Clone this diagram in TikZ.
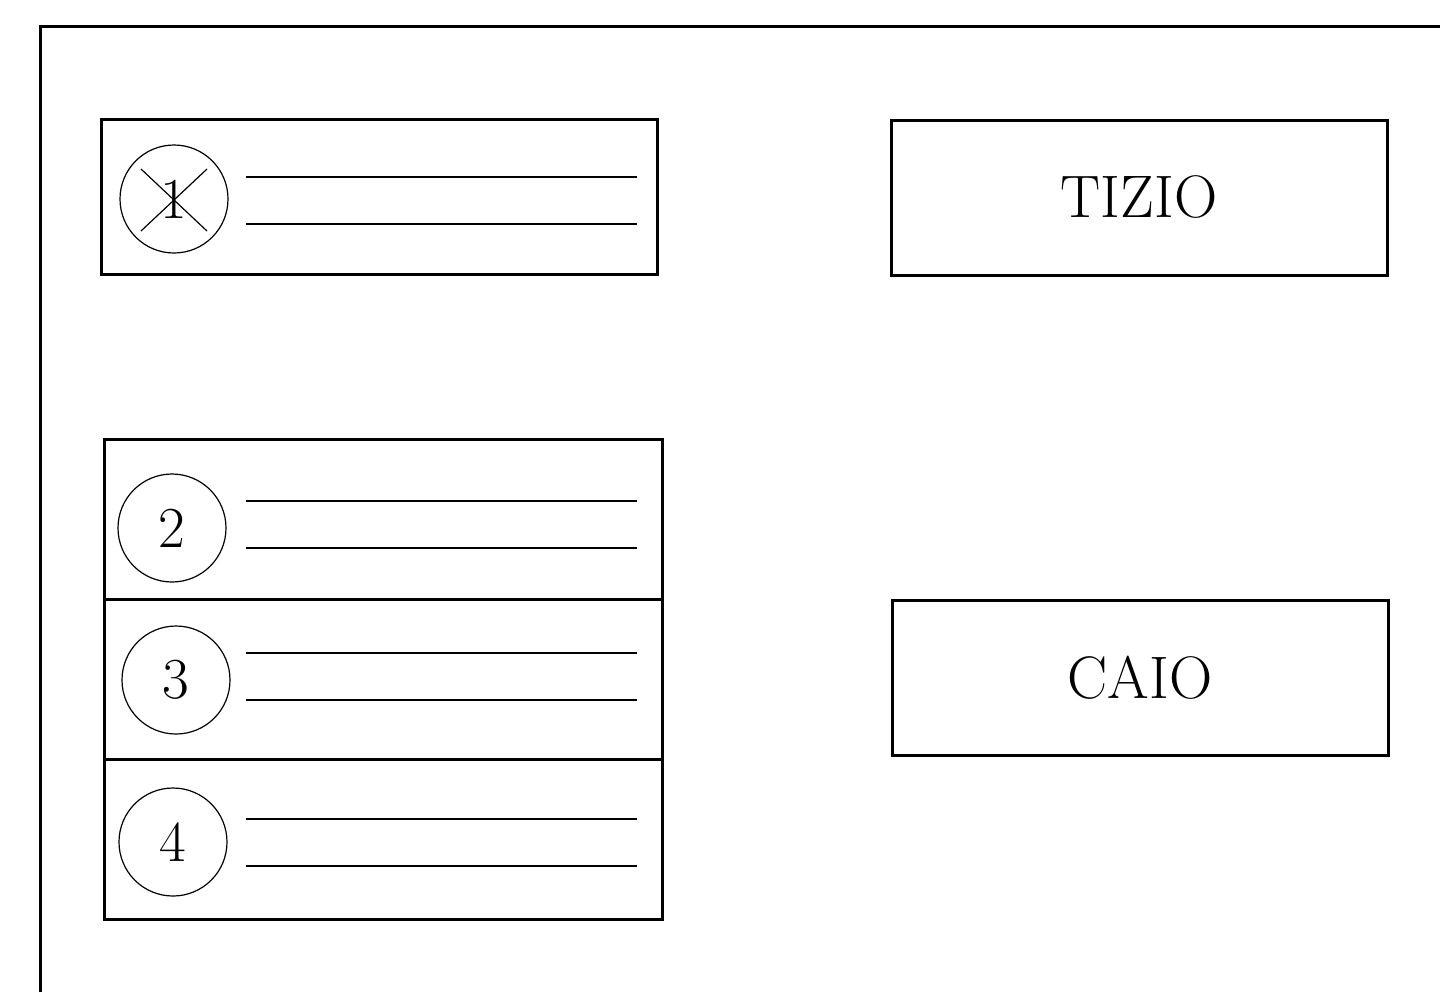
\documentclass[tikz,border=0pt]{standalone}
\usetikzlibrary{positioning}
\tikzset{
    frame/.style={draw, line width=1.5pt},
    row/.style={
        draw,
        line width=1.5pt,
        minimum width=279pt,
        minimum height=80pt,
        inner sep=0pt
    },
    num/.style={
        shape=circle,
        draw,
        line width=0.6pt,
        minimum size=54pt,
        inner sep=0pt,
        font=\fontsize{29}{34}\selectfont
    },
    rule/.style={line width=0.6pt},
    namebox/.style={
        draw,
        line width=1.5pt,
        minimum width=248pt,
        minimum height=77.5pt,
        inner sep=0pt,
        font=\fontsize{30}{36}\selectfont
    }
}
\begin{document}
\begin{tikzpicture}[x=0.5pt,y=-0.5pt]
    \useasboundingbox (0,0) rectangle (1440,992);

    % outer frame, open to the right and bottom
    \draw[frame] (40,992) -- (40,26) -- (1440,26);

    % single row with crossed-out entry
    \node[row, minimum width=278pt, minimum height=77.5pt] (row1) at (379,196.5) {};
    \node[num] (c1) at (174,199) {1};
    \draw[rule] (c1.center) +(-33,-30) -- +(33,32);
    \draw[rule] (c1.center) +(-33,32) -- +(33,-30);

    % stacked rows, sharing their borders
    \node[row] (row2) at (383.5,519) {};
    \node[row, below=-1.5pt of row2] (row3) {};
    \node[row, below=-1.5pt of row3] (row4) {};
    \node[num] (c2) at (172,528) {2};
    \node[num] (c3) at (176,680) {3};
    \node[num] (c4) at (173,842) {4};

    % writing lines
    \foreach \y in {177,224,501,548,653,700,819,866}
        \draw[rule] (246,\y) -- (637,\y);

    % names
    \node[namebox] (tizio) at (1139,197.5) {TIZIO};
    \node[namebox] (caio) at (1140,677.5) {CAIO};
\end{tikzpicture}
\end{document}
